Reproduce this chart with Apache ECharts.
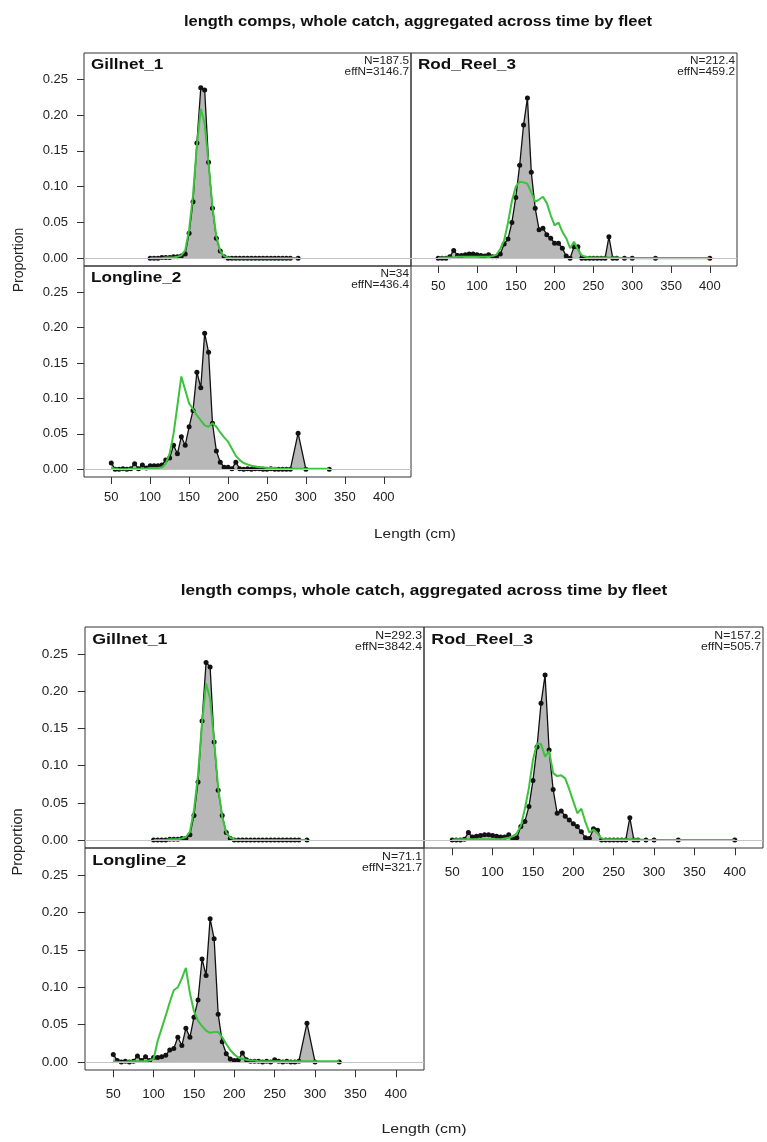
<!DOCTYPE html>
<html><head><meta charset="utf-8">
<script src="https://cdn.jsdelivr.net/npm/echarts@6/dist/echarts.min.js"></script>
<style>html,body{margin:0;padding:0;background:#fff}#c{width:767px;height:1142px}</style>
</head><body><div id="c"></div>
<script>
// ---- DATA ----
const bins = [50,55,60,65,70,75,80,85,90,95,
  100,105,110,115,120,125,130,135,140,145,
  150,155,160,165,170,175,180,185,190,195,
  200,205,210,215,220,225,230,235,240,245,
  250,255,260,265,270,275,280,290,300,330,400];
const xTicks = [50,100,150,200,250,300,350,400];
const yTicks = [0,0.05,0.10,0.15,0.20,0.25];

// Figure 1
const gillnetObs1 = [null,null,null,null,null,null,null,null,null,null,
  0,0,0,0.001,0.001,0.001,0.002,0.002,0.003,0.006,
  0.035,0.079,0.161,0.238,0.235,0.134,0.070,0.028,0.010,0.002,
  0,0,0,0,0,0,0,0,0,0,
  0,0,0,0,0,0,0,0,null,null,null];
const gillnetExp1 = [null,null,null,null,null,null,null,null,null,null,
  0,0,0,0,0.001,0.001,0.001,0.002,0.004,0.011,
  0.040,0.088,0.158,0.209,0.188,0.132,0.072,0.030,0.010,0.003,
  0.001,0,0,0,0,0,0,0,0,0,
  0,0,0,0,0,0,0,0,null,null,null];
const rodReelObs1 = [0,0,0,0.002,0.011,0.004,0.004,0.005,0.006,0.006,
  0.005,0.004,0.003,0.005,0.002,0.002,0.006,0.020,0.027,0.050,
  0.085,0.130,0.186,0.224,0.120,0.070,0.040,0.042,0.033,0.028,
  0.021,0.021,0.014,0.003,0,0.016,0.016,0,0,0,
  0,0,0,0,0.030,0,0,0,0,0,0];
const rodReelExp1 = [0,0.001,0.001,0.001,0.001,0.002,0.002,0.002,0.002,0.002,
  0.002,0.002,0.002,0.002,0.003,0.005,0.013,0.025,0.050,0.080,
  0.100,0.107,0.106,0.104,0.092,0.079,0.082,0.086,0.077,0.060,
  0.046,0.050,0.037,0.028,0.014,0.023,0.012,0.004,0.002,0.001,
  0.001,0.001,0.001,0.001,0.001,0.001,0.001,0,0,0,0];
const longlineObs1 = [0.009,0,0,0.001,0,0.001,0.008,0.001,0.006,0.002,
  0.005,0.005,0.005,0.006,0.013,0.016,0.034,0.022,0.046,0.034,
  0.060,0.083,0.137,0.115,0.192,0.165,0.065,0.026,0.010,0.003,
  0.003,0.001,0.010,0.001,0,0.001,0,0.001,0.001,0,
  0,0.001,0,0,0,0,0,0.051,0,0,null];
const longlineExp1 = [0.002,0.001,0,0,0,0.001,0.001,0.001,0.001,0.001,
  0.002,0.002,0.002,0.003,0.008,0.022,0.050,0.090,0.131,0.112,
  0.093,0.085,0.076,0.069,0.062,0.060,0.065,0.060,0.052,0.045,
  0.039,0.029,0.019,0.013,0.009,0.007,0.005,0.004,0.003,0.003,
  0.002,0.002,0.002,0.001,0.001,0.001,0.001,0.001,0.001,0.001,null];

// Figure 2
const gillnetObs2 = [null,null,null,null,null,null,null,null,null,null,
  0,0,0,0,0.001,0.001,0.001,0.002,0.002,0.007,
  0.033,0.078,0.160,0.239,0.233,0.132,0.067,0.033,0.010,0.002,
  0,0,0,0,0,0,0,0,0,0,
  0,0,0,0,0,0,0,0,null,null,null];
const gillnetExp2 = [null,null,null,null,null,null,null,null,null,null,
  0,0,0,0,0.001,0.001,0.001,0.002,0.004,0.011,
  0.040,0.087,0.157,0.211,0.190,0.133,0.070,0.031,0.010,0.003,
  0.001,0,0,0,0,0,0,0,0,0,
  0,0,0,0,0,0,0,0,null,null,null];
const rodReelObs2 = [0,0,0,0.001,0.010,0.004,0.005,0.006,0.007,0.007,
  0.006,0.005,0.004,0.004,0.007,0.002,0.003,0.018,0.025,0.045,
  0.080,0.125,0.184,0.222,0.121,0.068,0.036,0.039,0.032,0.027,
  0.022,0.018,0.011,0.003,0.002,0.015,0.013,0,0,0,
  0,0,0,0,0.030,0,0,0,0,0,0];
const rodReelExp2 = [0,0.001,0.001,0.001,0.001,0.001,0.001,0.001,0.001,0.001,
  0.001,0.001,0.001,0.002,0.003,0.005,0.009,0.019,0.042,0.070,
  0.108,0.130,0.129,0.112,0.120,0.090,0.086,0.087,0.083,0.068,
  0.052,0.036,0.042,0.024,0.010,0.014,0.009,0.002,0.001,0.001,
  0.001,0.001,0.001,0.001,0.001,0.001,0.001,0,0,0,0];
const longlineObs2 = [0.010,0.002,0,0.001,0,0.001,0.008,0.002,0.007,0.002,
  0.006,0.006,0.007,0.009,0.016,0.018,0.033,0.022,0.045,0.033,
  0.060,0.083,0.138,0.116,0.192,0.165,0.064,0.027,0.011,0.004,
  0.002,0.003,0.012,0.003,0.001,0.001,0.001,0,0.001,0,
  0.003,0.001,0,0.001,0,0,0.001,0.052,0,0,null];
const longlineExp2 = [0.001,0,0,0,0.001,0.001,0.001,0.001,0.001,0.002,
  0.004,0.028,0.045,0.062,0.080,0.096,0.100,0.112,0.126,0.092,
  0.068,0.055,0.048,0.042,0.039,0.040,0.040,0.033,0.024,0.016,
  0.010,0.006,0.004,0.003,0.002,0.002,0.001,0.001,0.001,0.001,
  0.001,0.001,0.001,0.001,0.001,0.001,0.001,0.001,0.001,0.001,null];

const fleetNames = ['Gillnet_1','Rod_Reel_3','Longline_2'];
const nLabels1 = ['N=187.5','N=212.4','N=34'];
const effNLabels1 = ['effN=3146.7','effN=459.2','effN=436.4'];
const nLabels2 = ['N=292.3','N=157.2','N=71.1'];
const effNLabels2 = ['effN=3842.4','effN=505.7','effN=321.7'];
const titleText = 'length comps, whole catch, aggregated across time by fleet';
const xTitle = 'Length (cm)';
const yTitle = 'Proportion';

// ---- LAYOUT ----
const FONT = '"Liberation Sans", Arial, Helvetica, sans-serif';
const SX = 1.18;
const figures = [
  { obs:[gillnetObs1,rodReelObs1,longlineObs1], exp:[gillnetExp1,rodReelExp1,longlineExp1],
    n:nLabels1, effN:effNLabels1, s:1.0,
    grids:[{left:84,top:53,width:327,height:213},{left:411,top:53,width:326,height:213},{left:84,top:266,width:327,height:211}],
    title:{x:418,y:22}, ytitle:{x:19,y:260}, xtitle:{x:415,y:534}, xMargin:14, yMargin:16 },
  { obs:[gillnetObs2,rodReelObs2,longlineObs2], exp:[gillnetExp2,rodReelExp2,longlineExp2],
    n:nLabels2, effN:effNLabels2, s:1.04,
    grids:[{left:85,top:627,width:339,height:221},{left:424,top:627,width:339,height:221},{left:85,top:848,width:339,height:222}],
    title:{x:424,y:591}, ytitle:{x:18,y:842}, xtitle:{x:424,y:1129}, xMargin:17, yMargin:17 }
];

function pairs(vals){
  const out=[];
  for(let i=0;i<bins.length;i++){ if(vals[i]!==null && vals[i]!==undefined) out.push([bins[i],vals[i]]); }
  return out;
}

const grid=[], xAxis=[], yAxis=[], series=[], graphic=[];
figures.forEach((f)=>{
  f.grids.forEach((g,k)=>{
    const gi = grid.length;
    grid.push(Object.assign({show:true,borderColor:'#333',borderWidth:1,backgroundColor:'transparent',containLabel:false},g));
    const showX = (k!==0), showY = (k!==1);
    xAxis.push({type:'value',gridIndex:gi,min:15,max:435,
      axisLine:{show:false,onZero:false},splitLine:{show:false},
      axisTick:{show:showX,length:7*f.s,inside:false,customValues:xTicks,lineStyle:{color:'#333',width:1}},
      axisLabel:{show:showX,customValues:xTicks,margin:f.xMargin,fontSize:13*f.s,color:'#222',fontFamily:FONT}});
    yAxis.push({type:'value',gridIndex:gi,min:-0.0108,max:0.2867,
      axisLine:{show:false,onZero:false},splitLine:{show:false},
      axisTick:{show:showY,length:7*f.s,inside:false,customValues:yTicks,lineStyle:{color:'#333',width:1}},
      axisLabel:{show:showY,customValues:yTicks,margin:f.yMargin,fontSize:13*f.s,color:'#222',fontFamily:FONT,
        formatter:(v)=>Number(v).toFixed(2)}});
    series.push({type:'line',xAxisIndex:gi,yAxisIndex:gi,data:pairs(f.obs[k]),
      symbol:'circle',symbolSize:5,showSymbol:true,z:3,silent:true,animation:false,
      itemStyle:{color:'#111',borderWidth:0},
      lineStyle:{color:'#111',width:1.3},
      areaStyle:{color:'#b8b8b8',opacity:1,origin:0},
      emphasis:{disabled:true},
      markLine:{silent:true,symbol:['none','none'],label:{show:false},animation:false,
        lineStyle:{color:'#c4c4c4',width:1,type:'solid'},data:[{yAxis:0}]}});
    series.push({type:'line',xAxisIndex:gi,yAxisIndex:gi,data:pairs(f.exp[k]),
      symbol:'none',z:4,silent:true,animation:false,
      lineStyle:{color:'#3cc23c',width:2},emphasis:{disabled:true}});
    // panel texts
    graphic.push({type:'text',x:g.left+7*f.s,y:g.top+12*f.s,scaleX:SX,silent:true,
      style:{text:fleetNames[k],fill:'#111',font:'bold '+(14.5*f.s)+'px '+FONT,align:'left',verticalAlign:'middle'}});
    graphic.push({type:'text',x:g.left+g.width-2,y:g.top+8.5*f.s,scaleX:SX,silent:true,
      style:{text:f.n[k],fill:'#222',font:(10*f.s)+'px '+FONT,align:'right',verticalAlign:'middle'}});
    graphic.push({type:'text',x:g.left+g.width-2,y:g.top+19.5*f.s,scaleX:SX,silent:true,
      style:{text:f.effN[k],fill:'#222',font:(10*f.s)+'px '+FONT,align:'right',verticalAlign:'middle'}});
  });
  graphic.push({type:'text',x:f.title.x,y:f.title.y,scaleX:SX,silent:true,
    style:{text:titleText,fill:'#111',font:'bold '+(14*f.s)+'px '+FONT,align:'center',verticalAlign:'middle'}});
  graphic.push({type:'text',x:f.xtitle.x,y:f.xtitle.y,scaleX:SX,silent:true,
    style:{text:xTitle,fill:'#222',font:(13*f.s)+'px '+FONT,align:'center',verticalAlign:'middle'}});
  graphic.push({type:'text',x:f.ytitle.x,y:f.ytitle.y,rotation:Math.PI/2,silent:true,
    style:{text:yTitle,fill:'#222',font:(14*f.s)+'px '+FONT,align:'center',verticalAlign:'middle'}});
});

const chart = echarts.init(document.getElementById('c'),null,{renderer:'canvas',width:767,height:1142});
chart.setOption({animation:false,backgroundColor:'#fff',textStyle:{fontFamily:FONT},
  grid, xAxis, yAxis, series, graphic});
</script></body></html>
